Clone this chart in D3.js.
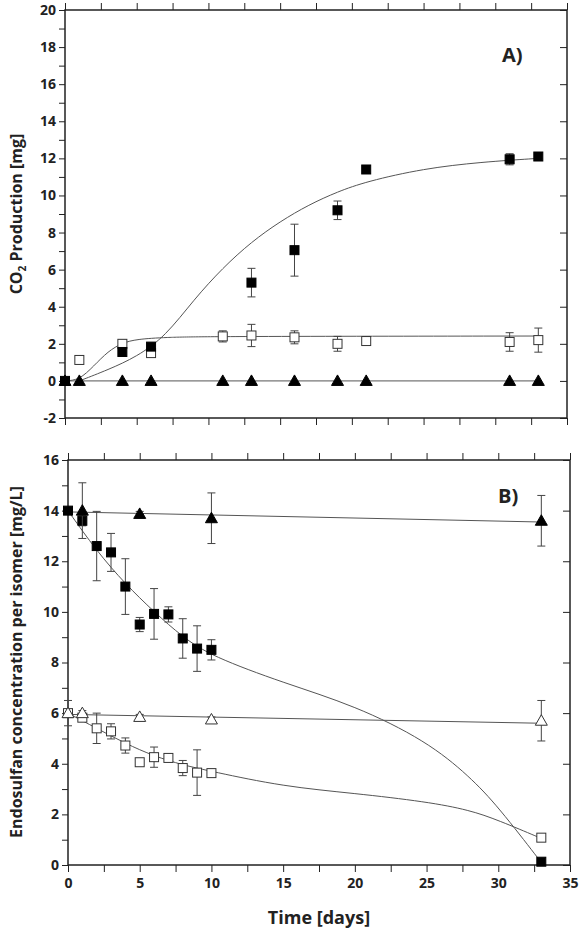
<!DOCTYPE html><html><head><script src="https://cdn.jsdelivr.net/npm/d3@7"></script>
<style>body{margin:0;background:#fff}text{font-family:"Open Sans",sans-serif;font-weight:bold;fill:#222}</style></head><body>
<svg id="c" width="582" height="937"></svg>
<script>
// Panel A: CO2 production [mg]
const aDays=[0,1,4,6,11,13,16,19,21,31,33];
const aFilled=[[0,0,0],[4,1.56,0.2],[6,1.85,0.15],[13,5.3,0.77],[16,7.05,1.4],[19,9.2,0.5],[21,11.4,0.15],[31,11.95,0.3],[33,12.1,0.1]];
const aOpen=[[1,1.13,0.2],[4,2.0,0.2],[6,1.5,0.2],[11,2.4,0.3],[13,2.45,0.6],[16,2.35,0.35],[19,2.0,0.4],[21,2.15,0.2],[31,2.1,0.5],[33,2.2,0.65]];
const aTri=aDays.map(d=>[d,0,0]);
const aFilledFit=[[1,0],[3,0.6],[5,1.3],[7,2.4],[9,4.4],[11,6.1],[13,7.5],[15,8.6],[17,9.5],[19,10.2],[21,10.75],[25,11.45],[29,11.8],[33,12.0]];
const aOpenFit=[[0,0],[1,0.05],[2,0.8],[3,1.6],[4,2.05],[5,2.25],[7,2.35],[10,2.4],[33,2.42]];
const aTriFit=[[0,0],[33,0]];
// Panel B: endosulfan concentration [mg/L]
const bFilledSq=[[0,14,0],[1,13.6,0.2],[2,12.6,1.37],[3,12.35,0.75],[4,11.0,1.1],[5,9.5,0.28],[6,9.92,1.0],[7,9.9,0.3],[8,8.95,0.78],[9,8.55,0.9],[10,8.5,0.4],[33,0.13,0]];
const bFilledTri=[[1,14.0,1.1],[5,13.87,0.1],[10,13.7,1.0],[33,13.6,1.0]];
const bOpenTri=[[0,6.0,0.5],[1,6.0,0.1],[5,5.85,0.1],[10,5.75,0.1],[33,5.7,0.8]];
const bOpenSq=[[0,6.0,0],[1,5.82,0.1],[2,5.4,0.6],[3,5.28,0.3],[4,4.72,0.3],[5,4.06,0.1],[6,4.26,0.4],[7,4.23,0.1],[8,3.83,0.3],[9,3.65,0.9],[10,3.63,0.1],[33,1.08,0.05]];
const bFilledFit=[[0,14],[2,12.4],[4,11.1],[6,10.0],[8,9.0],[10,8.25],[15,7.2],[20,6.3],[25,4.9],[28,3.5],[30,2.3],[33,0.1]];
const bOpenFit=[[0,6],[2,5.4],[4,4.8],[6,4.3],[8,3.95],[10,3.7],[15,3.1],[20,2.83],[25,2.5],[28,2.17],[30,1.77],[33,1.05]];
const bFilledTriFit=[[0,13.95],[33,13.55]];
const bOpenTriFit=[[0,5.95],[33,5.6]];
const xTicks=[0,5,10,15,20,25,30,35];
const aYTicks=[-2,0,2,4,6,8,10,12,14,16,18,20];
const bYTicks=[0,2,4,6,8,10,12,14,16];

const svg=d3.select("#c");
function panel(x0,x1,y0,y1,yd,yt,showX){
  const x=d3.scaleLinear([0,35],[x0,x1]), y=d3.scaleLinear(yd,[y1,y0]);
  const g=svg.append("g");
  const ax=(gen,tr)=>{const a=g.append("g").attr("transform",tr).call(gen);a.select(".domain").remove();a.selectAll("line").attr("stroke","#222");return a;};
  const xm=d3.range(0,35.1,2.5), ym=d3.range(yd[0],yd[1]+0.01,1);
  let a=ax(d3.axisBottom(x).tickValues(xm).tickSize(7).tickFormat(showX?(d=>xTicks.includes(d)?d:""):""),`translate(0,${y1})`);
  a.selectAll("text").attr("font-size",14).attr("dy","0.9em");
  ax(d3.axisBottom(x).tickValues(xm).tickSize(-7).tickFormat(""),`translate(0,${y0})`);
  a=ax(d3.axisLeft(y).tickValues(ym).tickSize(6).tickFormat(d=>yt.includes(d)?d:""),`translate(${x0},0)`);
  a.selectAll("text").attr("font-size",14);
  ax(d3.axisRight(y).tickValues(yt).tickSize(-7).tickFormat(""),`translate(${x1},0)`);
  g.append("rect").attr("x",x0).attr("y",y0).attr("width",x1-x0).attr("height",y1-y0).attr("fill","none").attr("stroke","#222").attr("stroke-width",1.5);
  return {g,x,y};
}
function fit(p,data,curve){p.g.append("path").attr("d",d3.line().x(d=>p.x(d[0])).y(d=>p.y(d[1])).curve(curve||d3.curveBasis)(data)).attr("fill","none").attr("stroke","#555").attr("stroke-width",1);}
function pts(p,data,shape,filled){
  const g=p.g.append("g");
  data.forEach(([d,v,e])=>{const cx=p.x(d),cy=p.y(v);
    if(e>0){const t=p.y(v+e),b=p.y(v-e);
      g.append("path").attr("d",`M${cx},${t}V${b}M${cx-4},${t}H${cx+4}M${cx-4},${b}H${cx+4}`).attr("stroke","#444").attr("fill","none");}
    if(shape=="sq")g.append("rect").attr("x",cx-4.5).attr("y",cy-4.5).attr("width",9).attr("height",9).attr("fill",filled?"#000":"#fff").attr("stroke",filled?"#000":"#333");
    else g.append("path").attr("d",`M${cx},${cy-6}L${cx+6},${cy+4.5}L${cx-6},${cy+4.5}Z`).attr("fill",filled?"#000":"#fff").attr("stroke",filled?"#000":"#333");
  });
}
const A=panel(65,567,10,418,[-2,20],aYTicks,false);
fit(A,aFilledFit);fit(A,aOpenFit);fit(A,aTriFit,d3.curveLinear);
pts(A,aTri,"tri",true);pts(A,aOpen,"sq",false);pts(A,aFilled,"sq",true);
A.g.append("text").attr("x",502).attr("y",62).attr("font-size",20).text("A)");
const B=panel(68,570,460,865,[0,16],bYTicks,true);
fit(B,bFilledFit);fit(B,bOpenFit);fit(B,bFilledTriFit,d3.curveLinear);fit(B,bOpenTriFit,d3.curveLinear);
pts(B,bOpenSq,"sq",false);pts(B,bOpenTri,"tri",false);pts(B,bFilledSq,"sq",true);pts(B,bFilledTri,"tri",true);
B.g.append("text").attr("x",498).attr("y",503).attr("font-size",20).text("B)");
svg.append("text").attr("x",319).attr("y",924).attr("text-anchor","middle").attr("font-size",18).text("Time [days]");
const ya=svg.append("text").attr("transform","translate(22,214) rotate(-90)").attr("text-anchor","middle").attr("font-size",16);
ya.append("tspan").text("CO");ya.append("tspan").attr("font-size",10).attr("dy",4).text("2");ya.append("tspan").attr("dy",-4).text(" Production [mg]");
svg.append("text").attr("transform","translate(22,662) rotate(-90)").attr("text-anchor","middle").attr("font-size",16).text("Endosulfan concentration per isomer [mg/L]");
</script></body></html>
